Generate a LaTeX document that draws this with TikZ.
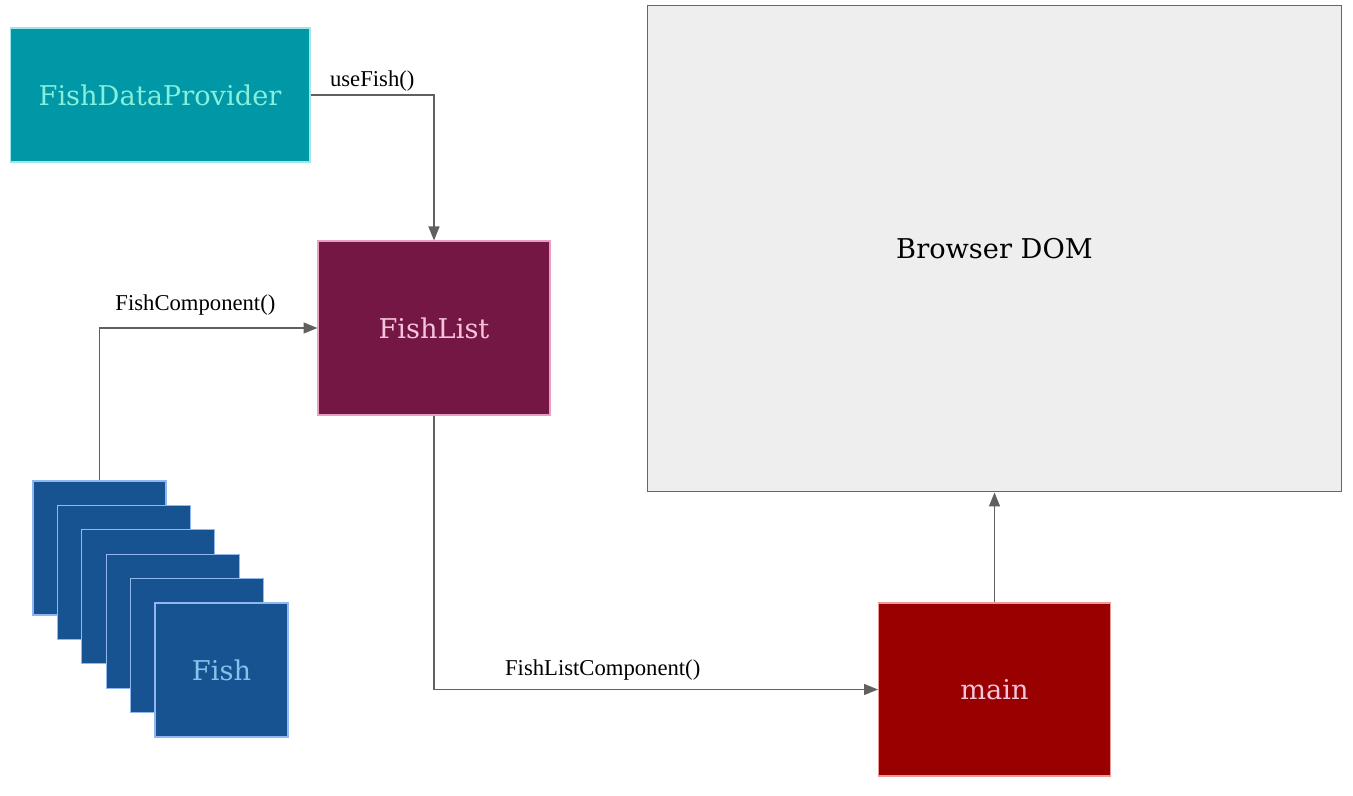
\documentclass[tikz,border=0pt]{standalone}
\usepackage{fontspec}
\setmainfont{DejaVu Serif}
\newfontfamily\labelfont{Liberation Serif}
\usetikzlibrary{positioning}
\usetikzlibrary{arrows.meta}

\definecolor{provfill}{HTML}{0097A7}
\definecolor{provline}{HTML}{A6E3E9}
\definecolor{provtext}{HTML}{84F0DC}
\definecolor{listfill}{HTML}{741745}
\definecolor{listline}{HTML}{E8A0C0}
\definecolor{pinktext}{HTML}{F6C4D8}
\definecolor{domfill}{HTML}{EEEEEE}
\definecolor{domline}{HTML}{666666}
\definecolor{mainfill}{HTML}{990000}
\definecolor{mainline}{HTML}{EE9999}
\definecolor{fishfill}{HTML}{175291}
\definecolor{fishline}{HTML}{90B8EE}
\definecolor{fishtext}{HTML}{82C4EC}
\definecolor{wire}{HTML}{606060}

\begin{document}
\begin{tikzpicture}[x=0.02cm, y=-0.02cm,
  box/.style={draw, line width=0.6pt, inner sep=0pt, font=\fontsize{15.5}{18}\selectfont},
  fishbox/.style={box, fill=fishfill, draw=fishline, text=fishtext,
    minimum width=2.66cm, minimum height=2.68cm},
  arr/.style={draw=wire, line width=0.75pt, -{Triangle[length=0.28cm, width=0.22cm]}},
  lbl/.style={font=\labelfont\fontsize{12.9}{15}\selectfont, text=black}]

\useasboundingbox (0, 0) rectangle (1353, 795);

\node (FDP) at (160, 95) [box, fill=provfill, draw=provline, text=provtext,
  minimum width=6cm, minimum height=2.68cm] {FishDataProvider};
\node (FL) at (434, 328) [box, fill=listfill, draw=listline, text=pinktext,
  minimum width=4.64cm, minimum height=3.48cm] {FishList};
\node (DOM) at (994.5, 248.5) [box, fill=domfill, draw=domline, text=black,
  minimum width=13.9cm, minimum height=9.74cm] {Browser DOM};
\node (M) at (994.5, 689.5) [box, fill=mainfill, draw=mainline, text=pinktext,
  minimum width=4.64cm, minimum height=3.46cm] {main};

\node (F1) at (99.5, 548) [fishbox] {};
\node (F2) at (123.9, 572.4) [fishbox] {};
\node (F3) at (148.3, 596.8) [fishbox] {};
\node (F4) at (172.7, 621.2) [fishbox] {};
\node (F5) at (197.1, 645.6) [fishbox] {};
\node (F6) at (221.5, 670) [fishbox] {Fish};

\draw[arr] (FDP.east) -| (FL.north) node[lbl, pos=0.25, above=-1.5pt] {useFish()};
\draw[arr] (F1.north) |- (FL.west) node[lbl, pos=0.72, above=3.5pt] {FishComponent()};
\draw[arr] (FL.south) |- (M.west) node[lbl, pos=0.69, above=1.5pt] {FishListComponent()};
\draw[arr] (M.north) -- (DOM.south);
\end{tikzpicture}
\end{document}
